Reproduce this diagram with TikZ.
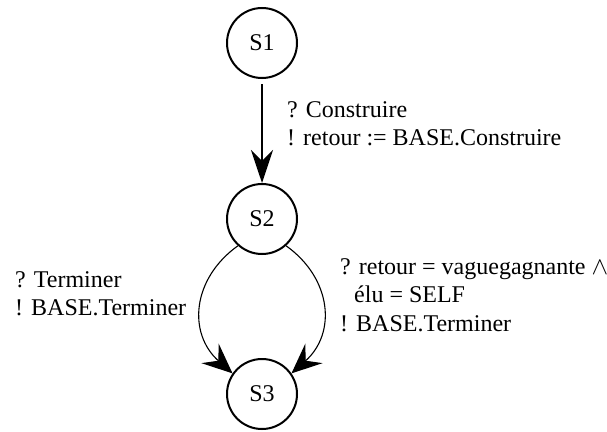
\documentclass[tikz,border=0pt]{standalone}
\usepackage{fontspec}
\setmainfont{Liberation Serif}
\usetikzlibrary{arrows.meta}
\begin{document}
\begin{tikzpicture}[x=1pt,y=-1pt,
  state/.style={draw, circle, line width=2pt, minimum size=70pt, inner sep=0pt, font=\fontsize{24}{28.5}\selectfont},
  lbl/.style={anchor=base west, inner sep=0pt, font=\fontsize{24}{28.5}\selectfont},
  bigarrow/.style={line width=2pt, -{Stealth[length=33pt,width=22pt,inset=11pt]}},
  thinarrow/.style={line width=1.1pt, -{Stealth[length=30pt,width=26pt,inset=11pt]}}]
\useasboundingbox (0,0) rectangle (607,431);
\node[state] (S1) at (262,43) {S1};
\node[state] (S2) at (262,219) {S2};
\node[state] (S3) at (262,394) {S3};
\draw[bigarrow, shorten <=5pt] (S1) -- (S2);
\draw[thinarrow] (S2.-132) .. controls +(-46,33) and +(-45,-40) .. (S3.145);
\draw[thinarrow] (S2.-48) .. controls +(46,33) and +(45,-40) .. (S3.35);
\node[lbl] (L1) at (287,117) {\vtop{\hbox{? Construire}\hbox{! retour := BASE.Construire}}};
\node[lbl] (L2) at (15,287) {\vtop{\hbox{? Terminer}\hbox{! BASE.Terminer}}};
\node[lbl] (L3) at (340,274) {\vtop{\hbox{? retour = vaguegagnante $\wedge$}\hbox{\hskip14pt élu = SELF}\hbox{! BASE.Terminer}}};
\end{tikzpicture}
\end{document}
